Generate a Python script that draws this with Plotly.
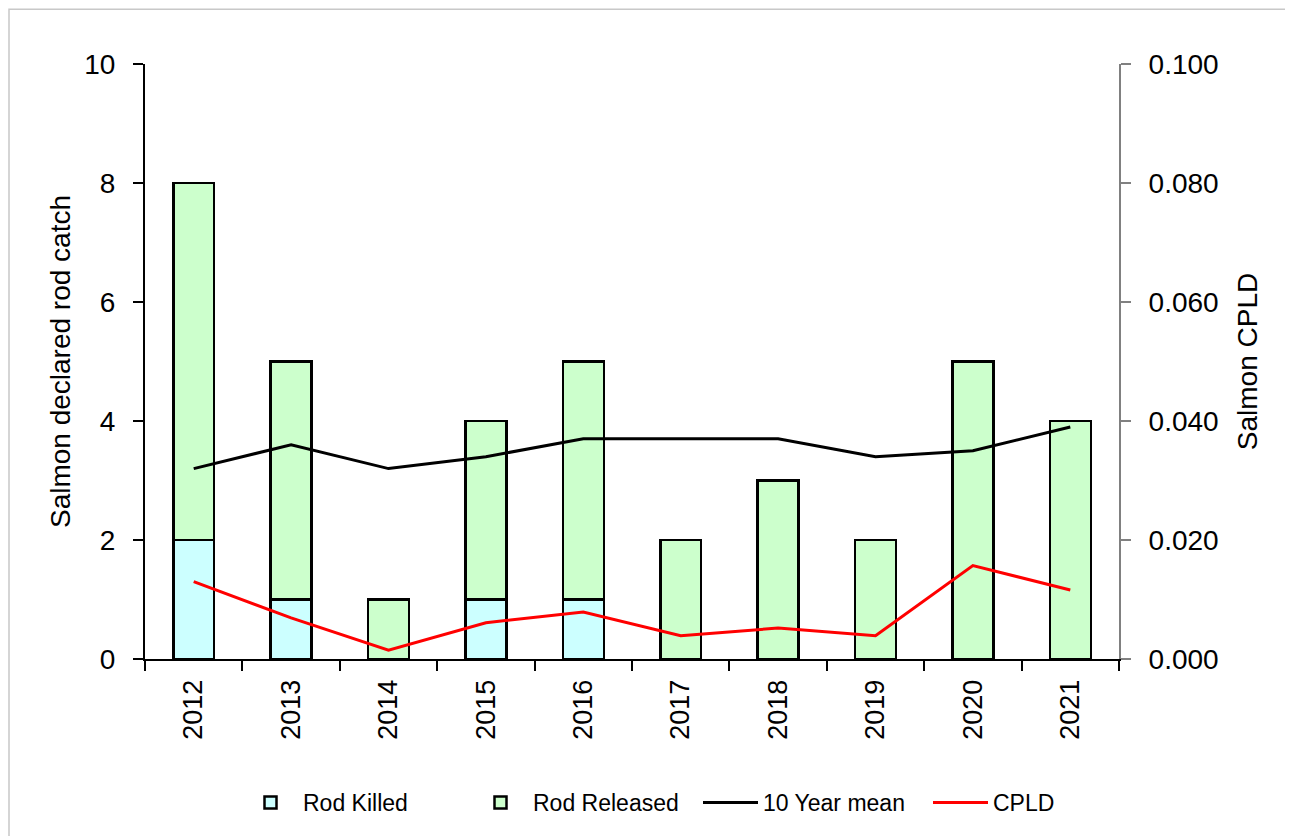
import plotly.graph_objects as go

years = ["2012", "2013", "2014", "2015", "2016", "2017", "2018", "2019", "2020", "2021"]
rod_killed = [2, 1, 0, 1, 1, 0, 0, 0, 0, 0]
rod_released = [6, 4, 1, 3, 4, 2, 3, 2, 5, 4]
ten_year_mean = [0.032, 0.036, 0.032, 0.034, 0.037, 0.037, 0.037, 0.034, 0.035, 0.039]
cpld = [0.013, 0.0069, 0.0015, 0.0061, 0.0079, 0.0039, 0.0052, 0.0039, 0.0157, 0.0116]

# page body adds an 8px offset; figure sized to fit the 1293x836 window
W, H = 1285, 828
ML, MR, MT, MB = 137, 174, 56, 175

font = "Liberation Sans, Arial, sans-serif"

fig = go.Figure()
fig.add_trace(go.Bar(x=years, y=rod_killed, name="Rod Killed",
                     marker=dict(color="#CCFFFF", line=dict(color="black", width=2.5))))
fig.add_trace(go.Bar(x=years, y=rod_released, name="Rod Released",
                     marker=dict(color="#CCFFCC", line=dict(color="black", width=2.5))))
fig.add_trace(go.Scatter(x=years, y=ten_year_mean, name="10 Year mean", mode="lines",
                         line=dict(color="black", width=3), yaxis="y2"))
fig.add_trace(go.Scatter(x=years, y=cpld, name="CPLD", mode="lines",
                         line=dict(color="#FF0000", width=3), yaxis="y2"))

pw = W - ML - MR
ph = H - MT - MB
fig.add_shape(type="rect", xref="paper", yref="paper",
              x0=-(ML - 1) / pw, x1=1 + (MR + 20) / pw,
              y0=-(MB + 20) / ph, y1=1 + (MT - 1) / ph,
              line=dict(color="#C8C8C8", width=1.5), layer="below")

fig.update_layout(
    width=W, height=H,
    margin=dict(l=ML, r=MR, t=MT, b=MB),
    barmode="stack", bargap=0.58,
    plot_bgcolor="white", paper_bgcolor="white",
    font=dict(family=font, size=28, color="black"),
    showlegend=True,
    legend=dict(orientation="h", x=(690 - ML) / pw, xanchor="center",
                y=(H - 797 - MB) / ph, yanchor="middle",
                font=dict(family=font, size=23),
                traceorder="normal", itemwidth=55,
                entrywidth=160, entrywidthmode="pixels"),
    xaxis=dict(type="category", showline=True, linecolor="black", linewidth=2,
               ticks="outside", tickson="boundaries", ticklen=10, tickwidth=2, tickcolor="black",
               tickangle=-90, tickfont=dict(size=27), ticklabelstandoff=8,
               showgrid=False, zeroline=False),
    yaxis=dict(range=[0, 10], dtick=2, showline=True, linecolor="black", linewidth=2,
               ticks="outside", ticklen=10, tickwidth=2, tickcolor="black",
               showgrid=False, zeroline=False, tickfont=dict(size=28), ticklabelstandoff=12,
               title=dict(text="Salmon declared rod catch", font=dict(size=28), standoff=5)),
    yaxis2=dict(range=[0, 0.1], dtick=0.02, tickformat=".3f", overlaying="y", side="right",
                showline=True, linecolor="#808080", linewidth=2,
                ticks="outside", ticklen=10, tickwidth=2, tickcolor="#808080",
                showgrid=False, zeroline=False, tickfont=dict(size=28), ticklabelstandoff=12,
                title=dict(text="Salmon CPLD", font=dict(size=28), standoff=20)),
)

fig.write_html("out.html")
